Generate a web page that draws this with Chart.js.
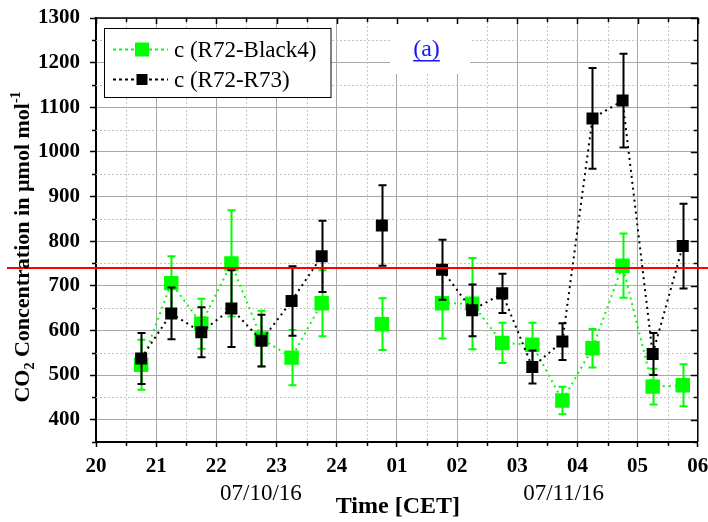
<!DOCTYPE html>
<html>
<head>
<meta charset="utf-8">
<title>CO2 concentration</title>
<script src="https://cdn.jsdelivr.net/npm/chart.js@4.4.1/dist/chart.umd.min.js"></script>
<style>
  html, body { margin: 0; padding: 0; background: #ffffff; }
  #wrap { width: 708px; height: 522px; }
</style>
</head>
<body>
<div id="wrap"><canvas id="chart" width="708" height="522"></canvas></div>
<script>
// Measurement times (hours after midnight of the first night; 24.75 = 00:45)
const HOURS = [20.75, 21.25, 21.75, 22.25, 22.75, 23.25, 23.75, 24.25, 24.75, 25.25,
               25.75, 26.25, 26.75, 27.25, 27.75, 28.25, 28.75, 29.25, 29.75];

// c (R72-Black4) in µmol/mol and its uncertainty
const C_R72_BLACK4 = [523, 706, 615, 750, 582, 539, 661, null, 614, null,
                      661, 660, 572, 568, 443, 560, 745, 474, 477];
const C_R72_BLACK4_ERR = [56, 60, 56, 119, 62, 62, 74, null, 58, null,
                          79, 102, 45, 49, 31, 43, 72, 40, 47];

// c (R72-R73) in µmol/mol and its uncertainty
const C_R72_R73 = [537, 638, 596, 649, 577, 666, 766, null, 835, null,
                   736, 645, 683, 518, 575, 1075, 1115, 547, 789];
const C_R72_R73_ERR = [57, 58, 56, 86, 58, 78, 80, null, 90, null,
                       67, 58, 44, 37, 41, 113, 105, 47, 95];

const X_TICK_LABELS = ['20', '21', '22', '23', '24', '01', '02', '03', '04', '05', '06'];
const Y_TICK_VALUES = [400, 500, 600, 700, 800, 900, 1000, 1100, 1200, 1300];
const DATE_LABELS = ['07/10/16', '07/11/16'];
const SERIES_NAMES = ['c (R72-Black4)', 'c (R72-R73)'];
const THRESHOLD = 740;

const SERIF = '"Liberation Serif", "Times New Roman", serif';
const GREEN = '#00ff00';
const BLACK = '#000000';

function points(values) {
  return HOURS.map((h, i) => ({ x: h, y: values[i] }));
}

// Vertical error bars with caps, drawn just before each dataset
const errorBars = {
  id: 'errorBars',
  beforeDatasetDraw(chart, args) {
    const ds = chart.data.datasets[args.index];
    if (!ds.errors) return;
    const xs = chart.scales.x, ys = chart.scales.y, ctx = chart.ctx;
    ctx.save();
    ctx.strokeStyle = ds.borderColor;
    ctx.lineWidth = 2;
    ds.data.forEach((p, i) => {
      if (p.y == null) return;
      const px = Math.round(xs.getPixelForValue(p.x)) + 0.5;
      const top = ys.getPixelForValue(p.y + ds.errors[i]);
      const bot = ys.getPixelForValue(p.y - ds.errors[i]);
      ctx.beginPath();
      ctx.moveTo(px, top); ctx.lineTo(px, bot);
      ctx.moveTo(px - 4, top); ctx.lineTo(px + 4, top);
      ctx.moveTo(px - 4, bot); ctx.lineTo(px + 4, bot);
      ctx.stroke();
    });
    ctx.restore();
  }
};

// Minor grid, panel tag box, mirrored axes and minor ticks
const frame = {
  id: 'frame',
  beforeDatasetsDraw(chart) {
    const { ctx, chartArea: a } = chart;
    const xs = chart.scales.x, ys = chart.scales.y;
    ctx.save();
    // dotted minor grid
    ctx.strokeStyle = '#c4c4c4';
    ctx.lineWidth = 1;
    ctx.setLineDash([2, 2]);
    for (let h = xs.min + 0.5; h < xs.max; h += 1) {
      const px = Math.round(xs.getPixelForValue(h)) + 0.5;
      ctx.beginPath(); ctx.moveTo(px, a.top); ctx.lineTo(px, a.bottom); ctx.stroke();
    }
    for (let v = 450; v < ys.max; v += 100) {
      const py = Math.round(ys.getPixelForValue(v)) + 0.5;
      ctx.beginPath(); ctx.moveTo(a.left, py); ctx.lineTo(a.right, py); ctx.stroke();
    }
    ctx.setLineDash([]);

    // white box behind the panel tag
    ctx.fillStyle = '#ffffff';
    ctx.fillRect(390, a.top + 1, 80, 55);

    // top and right axis lines
    ctx.strokeStyle = BLACK;
    ctx.lineWidth = 1.5;
    ctx.beginPath();
    ctx.moveTo(a.left, a.top); ctx.lineTo(a.right, a.top); ctx.lineTo(a.right, a.bottom);
    ctx.stroke();

    // ticks
    ctx.lineWidth = 1.5;
    ctx.beginPath();
    for (let h = xs.min; h <= xs.max + 1e-9; h += 0.5) {
      const px = Math.round(xs.getPixelForValue(h)) + 0.5;
      const major = Math.abs(h - Math.round(h)) < 1e-6;
      // top (inward)
      ctx.moveTo(px, a.top); ctx.lineTo(px, a.top + (major ? 6 : 4));
      // bottom minor (outward)
      if (!major) { ctx.moveTo(px, a.bottom); ctx.lineTo(px, a.bottom + 4); }
    }
    for (let v = 350; v <= ys.max + 1e-9; v += 50) {
      const py = Math.round(ys.getPixelForValue(v)) + 0.5;
      const major = v % 100 === 0;
      // right (inward)
      ctx.moveTo(a.right, py); ctx.lineTo(a.right - (major ? 7 : 4), py);
      // left minor (outward)
      if (!major) { ctx.moveTo(a.left, py); ctx.lineTo(a.left - 4, py); }
    }
    ctx.stroke();
    ctx.restore();
  },
  afterDatasetsDraw(chart) {
    const { ctx, width } = chart;
    const py = chart.scales.y.getPixelForValue(THRESHOLD);
    ctx.save();
    ctx.strokeStyle = '#ff0000';
    ctx.lineWidth = 2;
    ctx.beginPath();
    ctx.moveTo(7, py); ctx.lineTo(width, py);
    ctx.stroke();
    ctx.restore();
  },
  afterDraw(chart) {
    const { ctx } = chart;
    const xs = chart.scales.x;
    ctx.save();

    // legend
    ctx.fillStyle = '#ffffff';
    ctx.fillRect(104.5, 28.5, 226.5, 69);
    ctx.strokeStyle = BLACK;
    ctx.lineWidth = 1;
    ctx.strokeRect(104.5, 28.5, 226.5, 69);
    const rows = [
      { y: 49.5, color: GREEN, size: 14, name: SERIES_NAMES[0] },
      { y: 79.5, color: BLACK, size: 11, name: SERIES_NAMES[1] }
    ];
    ctx.font = '23px ' + SERIF;
    ctx.textBaseline = 'middle';
    ctx.textAlign = 'left';
    rows.forEach(r => {
      ctx.strokeStyle = r.color;
      ctx.lineWidth = 2;
      ctx.setLineDash([3, 3]);
      ctx.beginPath(); ctx.moveTo(113, r.y); ctx.lineTo(168, r.y); ctx.stroke();
      ctx.setLineDash([]);
      ctx.fillStyle = r.color;
      ctx.fillRect(142 - r.size / 2, r.y - r.size / 2, r.size, r.size);
      ctx.fillStyle = BLACK;
      ctx.fillText(r.name, 174, r.y + 1);
    });

    // panel tag
    ctx.fillStyle = '#1414ff';
    ctx.font = '24px ' + SERIF;
    ctx.textAlign = 'center';
    ctx.textBaseline = 'alphabetic';
    ctx.fillText('(a)', 426.5, 56);
    const tw = ctx.measureText('(a)').width;
    ctx.fillRect(426.5 - tw / 2, 60, tw, 1.5);

    // x axis title and dates
    ctx.fillStyle = BLACK;
    ctx.font = 'bold 24px ' + SERIF;
    ctx.fillText('Time [CET]', (chart.chartArea.left + chart.chartArea.right) / 2 + 1, 513);
    ctx.font = '23px ' + SERIF;
    ctx.fillText(DATE_LABELS[0], xs.getPixelForValue(22.74), 500);
    ctx.fillText(DATE_LABELS[1], xs.getPixelForValue(27.77), 500);

    // y axis title with subscript and superscript
    const parts = [
      { t: 'CO', s: 22, dy: 0 },
      { t: '2', s: 14, dy: 5 },
      { t: ' Concentration in \u00b5mol mol', s: 22, dy: 0 },
      { t: '-1', s: 14, dy: -9 }
    ];
    let total = 0;
    parts.forEach(p => { ctx.font = 'bold ' + p.s + 'px ' + SERIF; p.w = ctx.measureText(p.t).width; total += p.w; });
    ctx.translate(29, 247);
    ctx.rotate(-Math.PI / 2);
    ctx.textAlign = 'left';
    let cx = -total / 2;
    parts.forEach(p => {
      ctx.font = 'bold ' + p.s + 'px ' + SERIF;
      ctx.fillText(p.t, cx, p.dy);
      cx += p.w;
    });
    ctx.restore();
  }
};

new Chart(document.getElementById('chart'), {
  type: 'line',
  data: {
    datasets: [
      {
        label: SERIES_NAMES[0],
        data: points(C_R72_BLACK4),
        errors: C_R72_BLACK4_ERR,
        borderColor: GREEN,
        backgroundColor: GREEN,
        pointBackgroundColor: GREEN,
        borderWidth: 2,
        borderDash: [2, 4],
        pointStyle: 'rect',
        pointRadius: 10.2,
        pointBorderWidth: 0,
        spanGaps: false,
        tension: 0,
        order: 2
      },
      {
        label: SERIES_NAMES[1],
        data: points(C_R72_R73),
        errors: C_R72_R73_ERR,
        borderColor: BLACK,
        backgroundColor: BLACK,
        pointBackgroundColor: BLACK,
        borderWidth: 2,
        borderDash: [2, 4],
        pointStyle: 'rect',
        pointRadius: 8.5,
        pointBorderWidth: 0,
        spanGaps: false,
        tension: 0,
        order: 1
      }
    ]
  },
  options: {
    responsive: false,
    animation: false,
    events: [],
    devicePixelRatio: 1,
    layout: { padding: { top: 18, right: 10, left: 0, bottom: 0 } },
    plugins: { legend: { display: false }, tooltip: { enabled: false } },
    scales: {
      x: {
        type: 'linear',
        min: 20,
        max: 30,
        ticks: {
          stepSize: 1,
          autoSkip: false,
          maxRotation: 0,
          padding: 7,
          color: BLACK,
          font: { family: SERIF, size: 21, weight: 'bold' },
          callback: (v, i) => X_TICK_LABELS[i]
        },
        grid: { color: '#a8a8a8', lineWidth: 1, tickColor: BLACK, tickLength: 5, tickWidth: 1.5 },
        border: { color: BLACK, width: 2 },
        afterFit(s) { s.height = 80; s.paddingLeft = 0; s.paddingRight = 0; }
      },
      y: {
        type: 'linear',
        min: 350,
        max: 1300,
        ticks: {
          padding: 10,
          color: BLACK,
          font: { family: SERIF, size: 21, weight: 'bold' },
          callback: v => String(v)
        },
        afterBuildTicks(s) { s.ticks = Y_TICK_VALUES.map(v => ({ value: v })); },
        grid: { color: '#a8a8a8', lineWidth: 1, tickColor: BLACK, tickLength: 6, tickWidth: 1.5 },
        border: { color: BLACK, width: 2 },
        afterFit(s) { s.width = 96; s.paddingTop = 0; s.paddingBottom = 0; }
      }
    }
  },
  plugins: [errorBars, frame]
});
</script>
</body>
</html>
